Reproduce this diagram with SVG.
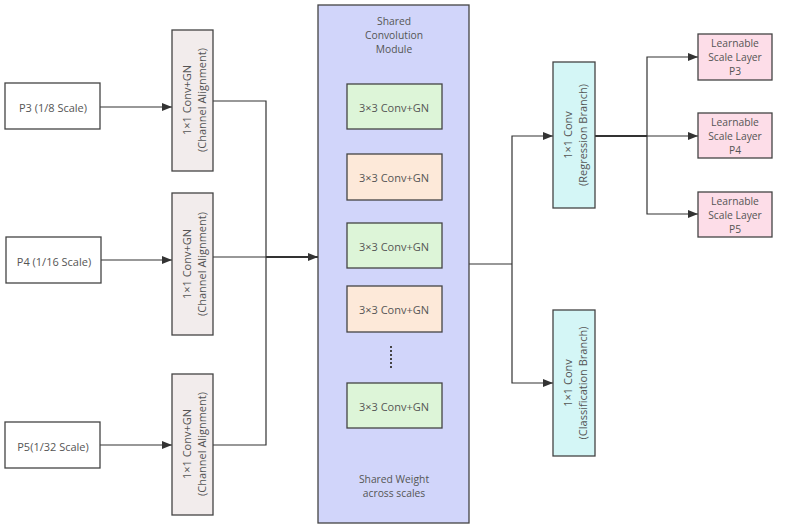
<svg xmlns="http://www.w3.org/2000/svg" width="785" height="528" viewBox="0 0 785 528">
<defs>
<marker id="ah" viewBox="0 0 10 10" refX="10" refY="5" markerWidth="10" markerHeight="10" markerUnits="userSpaceOnUse" orient="auto"><path d="M0,1 L10,5 L0,9 z" fill="#333"/></marker>
<style>
text{font-family:"Open Sans","Liberation Sans",sans-serif;font-size:11px;fill:#555;text-anchor:middle;dominant-baseline:central}
.s{font-size:10.3px}
.in{fill:#fff;stroke:#444;stroke-width:1.3}
.al{fill:#f2ecec;stroke:#444;stroke-width:1.3}
.sh{fill:#d1d5fa;stroke:#444;stroke-width:1.3}
.g{fill:#ddf5d8;stroke:#444;stroke-width:1.3}
.o{fill:#fde9d9;stroke:#444;stroke-width:1.3}
.c{fill:#d4f6f6;stroke:#444;stroke-width:1.3}
.p{fill:#fddde8;stroke:#444;stroke-width:1.3}
.ln{fill:none;stroke:#333;stroke-width:1.2}
.tk{fill:none;stroke:#333;stroke-width:2}
</style>
</defs>
<g id="connectors">
<path class="ln" d="M100,107 H172" marker-end="url(#ah)"/>
<path class="ln" d="M101,260 H172" marker-end="url(#ah)"/>
<path class="ln" d="M100,445 H172" marker-end="url(#ah)"/>
<path class="ln" d="M213,101 H266 V445 H213"/>
<path class="ln" d="M213,257 H266"/>
<path class="tk" d="M266,257 H318" marker-end="url(#ah)"/>
<path class="ln" d="M469,264 H512"/>
<path class="ln" d="M512,264 V136 H553" marker-end="url(#ah)"/>
<path class="ln" d="M512,264 V383 H553" marker-end="url(#ah)"/>
<path class="tk" d="M595,136 H647"/>
<path class="ln" d="M647,136 H698" marker-end="url(#ah)"/>
<path class="ln" d="M647,136 V57 H698" marker-end="url(#ah)"/>
<path class="ln" d="M647,136 V214 H698" marker-end="url(#ah)"/>
</g>
<g id="p3"><rect class="in" x="5" y="83" width="95" height="46"/><text x="53" y="107">P3 (1/8 Scale)</text></g>
<g id="p4"><rect class="in" x="6" y="237" width="95" height="46"/><text x="54" y="261">P4 (1/16 Scale)</text></g>
<g id="p5"><rect class="in" x="5" y="422" width="95" height="46"/><text x="53" y="446">P5(1/32 Scale)</text></g>
<g id="align1"><rect class="al" x="172" y="30" width="41" height="141"/><text transform="translate(192.5,100) rotate(-90)"><tspan x="0" y="-7">1×1 Conv+GN</tspan><tspan x="0" y="8">(Channel Alignment)</tspan></text></g>
<g id="align2"><rect class="al" x="172" y="193" width="41" height="142"/><text transform="translate(192.5,264) rotate(-90)"><tspan x="0" y="-7">1×1 Conv+GN</tspan><tspan x="0" y="8">(Channel Alignment)</tspan></text></g>
<g id="align3"><rect class="al" x="172" y="374" width="41" height="141"/><text transform="translate(192.5,444) rotate(-90)"><tspan x="0" y="-7">1×1 Conv+GN</tspan><tspan x="0" y="8">(Channel Alignment)</tspan></text></g>
<g id="shared"><rect class="sh" x="318" y="5" width="151" height="518"/>
<text class="s" x="394" y="21">Shared</text><text class="s" x="394" y="35">Convolution</text><text class="s" x="394" y="49">Module</text>
<text class="s" x="394" y="479">Shared Weight</text><text class="s" x="394" y="493">across scales</text></g>
<g id="conv1"><rect class="g" x="347" y="84" width="95" height="45"/><text x="394" y="107">3×3 Conv+GN</text></g>
<g id="conv2"><rect class="o" x="347" y="154" width="95" height="46"/><text x="394" y="177">3×3 Conv+GN</text></g>
<g id="conv3"><rect class="g" x="347" y="223" width="95" height="45"/><text x="394" y="246">3×3 Conv+GN</text></g>
<g id="conv4"><rect class="o" x="347" y="286" width="95" height="46"/><text x="394" y="309">3×3 Conv+GN</text></g>
<g id="dots"><line x1="391" y1="346" x2="391" y2="368" stroke="#444" stroke-width="2" stroke-dasharray="2,2"/></g>
<g id="conv5"><rect class="g" x="347" y="383" width="95" height="45"/><text x="394" y="406">3×3 Conv+GN</text></g>
<g id="reg"><rect class="c" x="553" y="62" width="42" height="146"/><text transform="translate(574,135) rotate(-90)"><tspan x="0" y="-7">1×1 Conv</tspan><tspan x="0" y="8">(Regression Branch)</tspan></text></g>
<g id="cls"><rect class="c" x="553" y="310" width="42" height="146"/><text transform="translate(574,383) rotate(-90)"><tspan x="0" y="-7">1×1 Conv</tspan><tspan x="0" y="8">(Classification Branch)</tspan></text></g>
<g id="ls3"><rect class="p" x="698" y="34" width="74" height="46"/><text class="s" x="735" y="43">Learnable</text><text class="s" x="735" y="57">Scale Layer</text><text class="s" x="735" y="71">P3</text></g>
<g id="ls4"><rect class="p" x="698" y="113" width="74" height="45"/><text class="s" x="735" y="122">Learnable</text><text class="s" x="735" y="136">Scale Layer</text><text class="s" x="735" y="150">P4</text></g>
<g id="ls5"><rect class="p" x="698" y="192" width="74" height="45"/><text class="s" x="735" y="201">Learnable</text><text class="s" x="735" y="215">Scale Layer</text><text class="s" x="735" y="229">P5</text></g>
</svg>
